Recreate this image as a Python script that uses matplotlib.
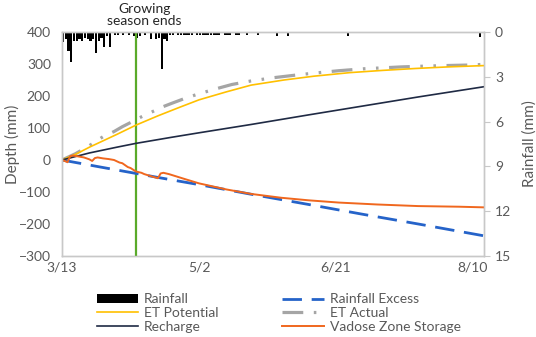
import matplotlib
matplotlib.use("Agg")
import matplotlib.pyplot as plt
from matplotlib.patches import Patch
from matplotlib.lines import Line2D
from matplotlib.transforms import blended_transform_factory

plt.rcParams["font.family"] = ["Lato", "DejaVu Sans"]

# days counted from 3/13
x_ticks = [0, 50, 100, 150]
x_labels = ["3/13", "5/2", "6/21", "8/10"]
x_max = 154
growing_end = 27

# daily rainfall (mm), right axis (inverted)
rain_days = [0, 1, 2, 3, 4, 5, 6, 7, 8, 9, 10, 11, 12, 13, 14, 15, 16, 17,
             19, 20, 22, 24, 26, 27, 28, 30, 32, 34, 35, 36, 37, 38,
             39, 40, 42, 43, 44, 45, 46, 47, 49, 50, 51, 52, 53, 54,
             55, 56, 57, 59, 60, 61, 63, 64, 67, 71, 78, 82, 104, 152]
rain_mm = [0.7, 0.5, 1.3, 2.0, 0.6, 0.6, 0.5, 0.6, 0.4, 0.5, 0.6, 0.5, 1.4, 0.6, 0.4, 1.0, 0.3, 1.0,
           0.2, 0.2, 0.2, 0.2, 0.3, 0.4, 0.3, 0.2, 0.5, 0.5, 0.4, 2.5, 0.5, 0.6,
           0.2, 0.2, 0.2, 0.2, 0.2, 0.2, 0.2, 0.2, 0.2, 0.2, 0.2, 0.2, 0.2, 0.2,
           0.2, 0.2, 0.2, 0.2, 0.2, 0.2, 0.2, 0.2, 0.2, 0.2, 0.3, 0.3, 0.3, 0.35]

# rainfall excess (mm)
excess_days = [0, 14, 27, 36, 50, 69, 90, 110, 130, 154]
excess_mm = [0, -22, -42, -56, -77, -107, -139, -170, -200, -237]

# ET potential (mm)
etp_days = [0, 5, 10, 15, 20, 27, 35, 43, 50, 60, 69, 81, 92, 105, 117, 129, 141, 154]
etp_mm = [0, 18, 40, 60, 80, 109, 138, 165, 188, 213, 234, 250, 262, 273, 280, 286, 291, 295]

# ET actual (mm)
eta_days = [0, 5, 10, 15, 19, 22, 25, 29, 33, 37, 40, 45, 50, 56, 62, 69, 77, 87,
            95, 101, 110, 117, 124, 131, 139, 150, 154]
eta_mm = [0, 20, 45, 73, 89, 104, 117, 135, 151, 167, 177, 193, 207, 222, 236, 247, 257, 267,
          274, 279, 285, 288, 291, 293, 295, 297, 299]

# recharge (mm)
rech_days = [0, 10, 20, 27, 40, 50, 69, 90, 110, 130, 154]
rech_mm = [0, 22, 40, 52, 71, 85, 111, 141, 169, 197, 229]

# vadose zone storage (mm)
vad_days = [0, 1, 2, 3, 4, 6, 8, 10, 11, 12, 13, 15, 17, 19, 21, 22, 24, 25, 27, 29, 30,
            33, 35, 36, 37, 39, 45, 50, 60, 69, 80, 90, 101, 115, 130, 145, 154]
vad_mm = [0, -3, -7, 12, 14, 11, 8, 2, -3, 6, 8, 5, 3, 0, -8, -10, -22, -25, -36, -40, -44,
          -52, -57, -42, -40, -44, -60, -73, -92, -106, -118, -126, -133, -139, -144, -146, -148]

spine_c = "#C8C8C8"
text_c = "#595959"

fig = plt.figure(figsize=(5.36, 3.37), dpi=100)
ax = fig.add_axes([62 / 536, 1 - 256 / 337, 422 / 536, 224 / 337])
ax2 = ax.twinx()

# rainfall bars on the secondary axis, lines drawn above them
ax2.bar(rain_days, rain_mm, width=0.8, align="edge", color="black")
ax2.set_ylim(15, 0)
ax2.set_yticks([0, 3, 6, 9, 12, 15])
ax.set_zorder(ax2.get_zorder() + 1)
ax.patch.set_visible(False)

ax.axvline(growing_end, color="#5AAA2A", lw=1.6)
ax.plot(excess_days, excess_mm, color="#2563C9", lw=2.0, ls=(0, (7, 3.5)))
ax.plot(eta_days, eta_mm, color="#A5A5A5", lw=2.3, ls=(0, (6.5, 3.3, 0.8, 3.3, 0.8, 3.3)))
ax.plot(etp_days, etp_mm, color="#FFC000", lw=1.2)
ax.plot(rech_days, rech_mm, color="#1F2A44", lw=1.2)
ax.plot(vad_days, vad_mm, color="#F0671E", lw=1.4)

ax.set_xlim(0, x_max)
ax.set_ylim(-300, 400)
ax.set_yticks(range(-300, 401, 100))
ax.set_xticks(x_ticks)
ax.set_xticklabels(x_labels)

for a in (ax, ax2):
    for s in a.spines.values():
        s.set_color(spine_c)
        s.set_linewidth(1.0)
ax.tick_params(axis="y", length=0, pad=8, labelsize=10, labelcolor=text_c)
ax.tick_params(axis="x", length=0, pad=4, labelsize=10, labelcolor=text_c)
ax2.tick_params(axis="y", length=4, color=spine_c, pad=4, labelsize=10, labelcolor=text_c)

ax.set_ylabel("Depth (mm)", fontsize=11, color=text_c)
ax.yaxis.set_label_coords(-0.1, 0.5)
ax2.set_ylabel("Rainfall (mm)", fontsize=11, color=text_c)
ax2.yaxis.set_label_coords(1.09, 0.5)

trans = blended_transform_factory(ax.transData, fig.transFigure)
ax.text(growing_end + 3, 1 - 15 / 337, "Growing\nseason ends", transform=trans,
        ha="center", va="center", fontsize=10, color="#262626", linespacing=1.05)

handles = [
    Patch(facecolor="black", label="Rainfall"),
    Line2D([], [], color="#FFC000", lw=1.2, label="ET Potential"),
    Line2D([], [], color="#1F2A44", lw=1.2, label="Recharge"),
    Line2D([], [], color="#2563C9", lw=2.0, ls=(0, (7, 3.5)), label="Rainfall Excess"),
    Line2D([], [], color="#A5A5A5", lw=2.3, ls=(0, (6.5, 3.3, 0.8, 3.3, 0.8, 3.3)), label="ET Actual"),
    Line2D([], [], color="#F0671E", lw=1.4, label="Vadose Zone Storage"),
]
leg = fig.legend(handles=handles, loc="center", bbox_to_anchor=(0.52, 0.071), ncol=2,
                 frameon=False, fontsize=10, handlelength=3.0, handleheight=0.6,
                 labelspacing=0.12, columnspacing=4.6, handletextpad=0.4)
for t in leg.get_texts():
    t.set_color(text_c)

fig.savefig("out.png", dpi=100)
